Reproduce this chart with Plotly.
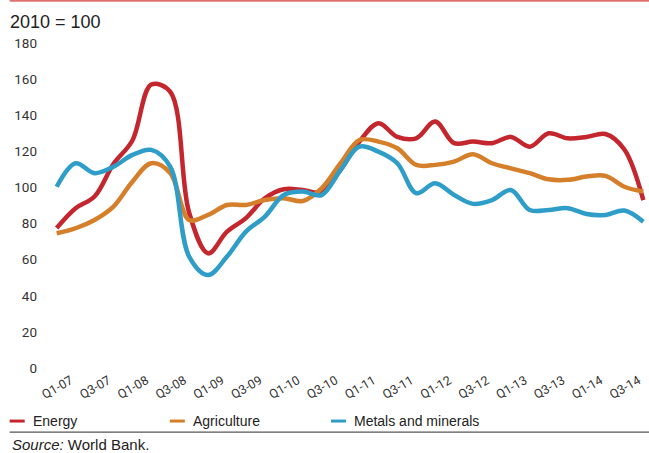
import plotly.graph_objects as go

quarters = list(range(32))  # Q1-07 .. Q4-14
tick_positions = list(range(0, 31, 2))
tick_labels = ["Q1-07", "Q3-07", "Q1-08", "Q3-08", "Q1-09", "Q3-09", "Q1-10", "Q3-10",
               "Q1-11", "Q3-11", "Q1-12", "Q3-12", "Q1-13", "Q3-13", "Q1-14", "Q3-14"]

energy = [77.5, 88.5, 95, 113, 126, 157, 153, 86, 63.5, 75.5, 83, 94, 99, 98.6, 97.5, 109.7,
          125.4, 135.6, 128, 127.2, 136.5, 124.5, 125.4, 124.5, 128, 122.6, 130, 127.2,
          128, 129.6, 121, 93]
agriculture = [74.6, 77.4, 82, 89.4, 103.2, 113.4, 108, 82, 84.8, 90.3, 90.3, 93, 94, 92.5,
               99.5, 113.4, 126.3, 125.4, 121.7, 112.5, 112.5, 114.3, 118.4, 113.4, 110.6,
               107.9, 104.5, 104.2, 106, 106.4, 100.4, 97.7]
metals = [100.4, 113.4, 107.9, 111.5, 118, 120.8, 111.5, 61.7, 51.5, 61.7, 75.5, 83.8, 95.8,
          97.7, 95.8, 109.7, 122.6, 119.8, 113.4, 96.8, 102.3, 95.8, 90.9, 93, 98.6, 87.5,
          87.5, 88.5, 85.3, 84.8, 87.2, 81]

series = [("Energy", energy, "#C4262E"),
          ("Agriculture", agriculture, "#D57F2B"),
          ("Metals and minerals", metals, "#2E9DC8")]

W, H = 649, 453
ml, mr, mt, mb = 51.3, 0.3, 43.3, 85
pw = W - ml - mr
ph = H - mt - mb

def px(x):
    return (x - ml) / pw

def py(y):
    return (H - mb - y) / ph

fig = go.Figure()
for name, vals, col in series:
    fig.add_trace(go.Scatter(x=quarters, y=vals, name=name, mode="lines",
                             line=dict(color=col, width=4.5, shape="spline", smoothing=1.0),
                             showlegend=False))

font_c = "Liberation Sans Narrow, Arial Narrow, Roboto, sans-serif"

fig.update_layout(
    width=W, height=H,
    margin=dict(l=ml, r=mr, t=mt, b=mb),
    paper_bgcolor="white", plot_bgcolor="white",
    title=dict(text="2010 = 100", xref="container", yref="container",
               x=10 / W, y=1 - 22 / H, xanchor="left", yanchor="middle",
               font=dict(family="Liberation Sans, Arial, sans-serif", size=18, color="#222")),
    xaxis=dict(range=[-0.3, 31.3], tickvals=tick_positions, ticktext=tick_labels,
               tickangle=-30, showgrid=False, zeroline=False, showline=False, ticks="",
               tickfont=dict(family=font_c, size=12.5, color="#333"), ticklabelshift=14,
               ticklabelstandoff=2),
    yaxis=dict(range=[0, 180], tickvals=list(range(0, 181, 20)), showgrid=False,
               zeroline=False, showline=False, ticks="",
               tickfont=dict(family=font_c, size=13.5, color="#333"), ticklabelstandoff=13),
)

shapes = []
# top rule
shapes.append(dict(type="line", xref="paper", yref="paper", x0=px(10), x1=px(649),
                   y0=py(1), y1=py(1), line=dict(color="#E07070", width=2)))
# separator
shapes.append(dict(type="line", xref="paper", yref="paper", x0=px(10), x1=px(649),
                   y0=py(432), y1=py(432), line=dict(color="#555", width=1.2)))
leg_x = [10, 170, 331]
annotations = []
for (name, vals, col), lx in zip(series, leg_x):
    shapes.append(dict(type="line", xref="paper", yref="paper", x0=px(lx), x1=px(lx + 15),
                       y0=py(421), y1=py(421), line=dict(color=col, width=3)))
    annotations.append(dict(text=name, xref="paper", yref="paper", x=px(lx + 21), y=py(421),
                            xanchor="left", yanchor="middle", showarrow=False,
                            font=dict(family="Liberation Sans, Arial, sans-serif", size=14, color="#222")))
annotations.append(dict(text="<i>Source:</i> World Bank.", xref="paper", yref="paper",
                        x=px(10), y=py(444), xanchor="left", yanchor="middle", showarrow=False,
                        font=dict(family="Liberation Sans, Arial, sans-serif", size=15, color="#222")))
fig.update_layout(shapes=shapes, annotations=annotations)

fig.write_html("out.html", config={"displayModeBar": False},
               post_script="document.body.style.margin='0';document.body.style.padding='0';")
